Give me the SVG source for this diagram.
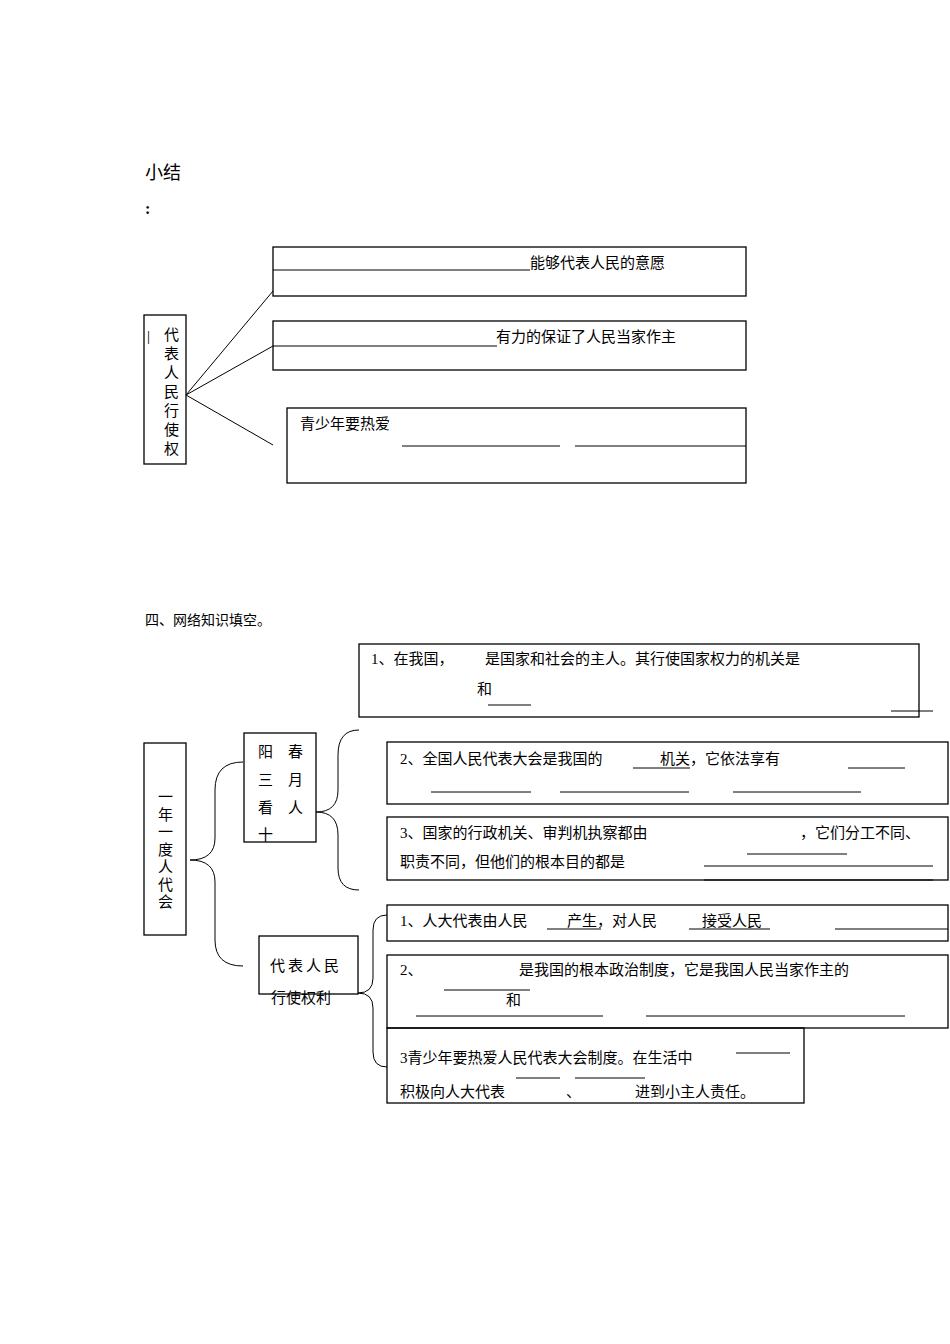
<svg xmlns="http://www.w3.org/2000/svg" width="950" height="1344" viewBox="0 0 950 1344">
<style>
text{font-family:"Liberation Serif","Noto Sans CJK SC",serif;font-size:15px;fill:#000}
.b{fill:none;stroke:#000;stroke-width:1.3}
.l{stroke:#000;stroke-width:1}
.c{fill:none;stroke:#000;stroke-width:1}
</style>
<rect width="950" height="1344" fill="#fff"/>
<text x="145" y="179" style="font-size:18px">小结</text>
<text x="145" y="214" style="font-size:16px;font-weight:bold">:</text>

<g id="connectors">
<line class="l" x1="186" y1="395" x2="273" y2="291"/>
<line class="l" x1="186" y1="395" x2="273" y2="346"/>
<line class="l" x1="186" y1="395" x2="273" y2="445"/>
<path class="c" d="M243,762 Q215,762 215,790 L215,838 Q215,860 190,860 Q215,860 215,882 L215,940 Q215,966 243,966"/>
<path class="c" d="M359,730 Q338,730 338,755 L338,790 Q338,812 316,812 Q338,812 338,835 L338,868 Q338,890 359,890"/>
<path class="c" d="M387,915 Q373,915 373,930 L373,978 Q373,993 358,993 Q373,993 373,1008 L373,1052 Q373,1067 387,1067"/>
</g>

<g id="n-left"><rect class="b" x="144" y="315" width="42" height="149"/>
<text x="147" y="341">|</text>
<text x="164" y="340">代</text><text x="164" y="359">表</text><text x="164" y="378">人</text><text x="164" y="397">民</text><text x="164" y="416">行</text><text x="164" y="435">使</text><text x="164" y="454">权</text></g>

<g id="n-b1"><rect class="b" x="273" y="247" width="473" height="49"/>
<line class="l" x1="273" y1="270" x2="530" y2="270"/>
<text x="530" y="268">能够代表人民的意愿</text></g>
<g id="n-b2"><rect class="b" x="273" y="321" width="473" height="49"/>
<line class="l" x1="273" y1="346" x2="497" y2="346"/>
<text x="496" y="342">有力的保证了人民当家作主</text></g>
<g id="n-b3"><rect class="b" x="287" y="408" width="459" height="75"/>
<text x="300" y="429">青少年要热爱</text>
<line class="l" x1="402" y1="446" x2="560" y2="446"/>
<line class="l" x1="575" y1="446" x2="746" y2="446"/></g>

<text x="145" y="625" style="font-size:14px">四、网络知识填空。</text>

<g id="n-a"><rect class="b" x="359" y="644" width="560" height="73"/>
<text x="371" y="664">1、在我国，</text><text x="485" y="664">是国家和社会的主人。其行使国家权力的机关是</text>
<text x="477" y="694">和</text>
<line class="l" x1="488" y1="705" x2="531" y2="705"/>
<line class="l" x1="891" y1="711" x2="933" y2="711"/></g>

<g id="n-annual"><rect class="b" x="144" y="743" width="42" height="192"/>
<text x="158" y="802">一</text><text x="158" y="820">年</text><text x="158" y="837">一</text><text x="158" y="855">度</text><text x="158" y="872">人</text><text x="158" y="890">代</text><text x="158" y="907">会</text></g>

<g id="n-spring"><rect class="b" x="244" y="733" width="72" height="109"/>
<text x="258" y="757">阳</text><text x="288" y="757">春</text>
<text x="258" y="785">三</text><text x="288" y="785">月</text>
<text x="258" y="813">看</text><text x="288" y="813">人</text>
<text x="258" y="840">十</text></g>

<g id="n-2"><rect class="b" x="387" y="742" width="561" height="62"/>
<text x="400" y="764">2、全国人民代表大会是我国的</text><text x="660" y="764">机关，它依法享有</text>
<line class="l" x1="633" y1="768" x2="690" y2="768"/>
<line class="l" x1="848" y1="768" x2="905" y2="768"/>
<line class="l" x1="431" y1="792" x2="531" y2="792"/>
<line class="l" x1="560" y1="792" x2="689" y2="792"/>
<line class="l" x1="733" y1="792" x2="861" y2="792"/></g>

<g id="n-3"><rect class="b" x="387" y="817" width="561" height="63"/>
<text x="400" y="838">3、国家的行政机关、审判机执察都由</text>
<text x="800" y="838">，它们分工不同、</text>
<line class="l" x1="747" y1="854" x2="847" y2="854"/>
<text x="400" y="867">职责不同，但他们的根本目的都是</text>
<line class="l" x1="704" y1="866" x2="933" y2="866"/>
<line class="l" x1="704" y1="880" x2="933" y2="880"/></g>

<g id="n-rep"><rect class="b" x="259" y="936" width="99" height="58"/>
<text x="270" y="971" letter-spacing="3">代表人民</text>
<text x="271" y="1003">行使权利</text></g>

<g id="n-r1"><rect class="b" x="387" y="905" width="561" height="36"/>
<text x="400" y="926">1、人大代表由人民</text><text x="567" y="926">产生，对人民</text><text x="702" y="926">接受人民</text>
<line class="l" x1="547" y1="929" x2="601" y2="929"/>
<line class="l" x1="689" y1="929" x2="770" y2="929"/>
<line class="l" x1="835" y1="929" x2="948" y2="929"/></g>

<g id="n-r2"><rect class="b" x="387" y="955" width="561" height="73"/>
<text x="400" y="975">2、</text><text x="519" y="975">是我国的根本政治制度，它是我国人民当家作主的</text>
<line class="l" x1="444" y1="990" x2="530" y2="990"/>
<text x="506" y="1005">和</text>
<line class="l" x1="416" y1="1016" x2="603" y2="1016"/>
<line class="l" x1="646" y1="1016" x2="905" y2="1016"/></g>

<g id="n-r3"><rect class="b" x="387" y="1028" width="417" height="75"/>
<text x="400" y="1063">3青少年要热爱人民代表大会制度。在生活中</text>
<line class="l" x1="736" y1="1053" x2="790" y2="1053"/>
<line class="l" x1="516" y1="1078" x2="560" y2="1078"/>
<line class="l" x1="575" y1="1078" x2="645" y2="1078"/>
<text x="400" y="1097">积极向人大代表</text><text x="566" y="1097">、</text><text x="635" y="1097">进到小主人责任。</text></g>
</svg>
